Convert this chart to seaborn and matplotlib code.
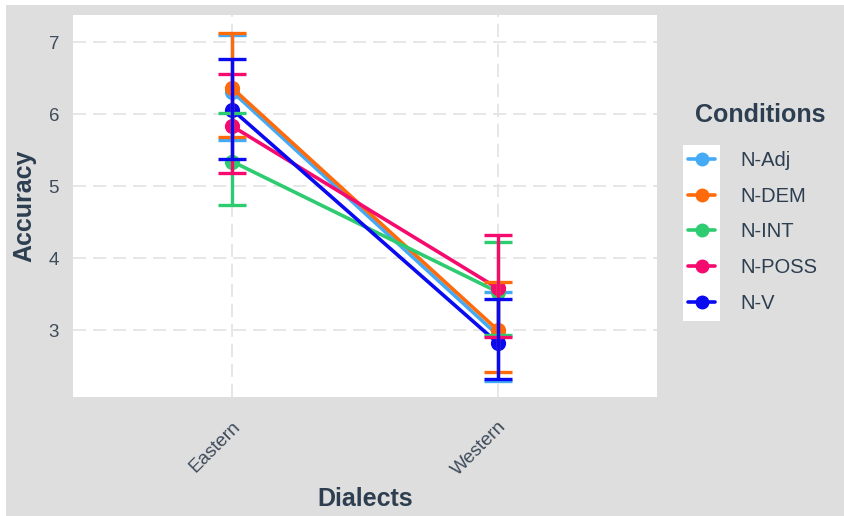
import matplotlib
matplotlib.use("Agg")
import matplotlib.pyplot as plt
import seaborn as sns
import pandas as pd
from matplotlib.patches import Rectangle
from matplotlib.lines import Line2D

dialects = ["Eastern", "Western"]
conditions = ["N-Adj", "N-DEM", "N-INT", "N-POSS", "N-V"]
colors = ["#45aaf5", "#ff6a0a", "#2ecc71", "#f50a6e", "#0a0af0"]

mean_eastern = [6.31, 6.36, 5.34, 5.83, 6.06]
mean_western = [2.93, 3.00, 3.53, 3.58, 2.82]
low_eastern = [5.64, 5.68, 4.74, 5.18, 5.37]
high_eastern = [7.10, 7.12, 6.01, 6.56, 6.76]
low_western = [2.29, 2.42, 2.93, 2.91, 2.32]
high_western = [3.53, 3.67, 4.22, 4.32, 3.43]

rows = []
for i, c in enumerate(conditions):
    rows.append(dict(Dialects="Eastern", Conditions=c, Accuracy=mean_eastern[i],
                     lo=low_eastern[i], hi=high_eastern[i]))
    rows.append(dict(Dialects="Western", Conditions=c, Accuracy=mean_western[i],
                     lo=low_western[i], hi=high_western[i]))
df = pd.DataFrame(rows)

sns.set_theme(style="white")
plt.rcParams["font.family"] = ["Liberation Sans", "DejaVu Sans"]

bg = "#dedede"
dark = "#2c3e50"
fig = plt.figure(figsize=(8.44, 5.16), dpi=100)
fig.patch.set_facecolor(bg)
# thin white strips at top and left, as in the reference crop
fig.patches.append(Rectangle((0, 1 - 5 / 516), 1, 5 / 516, transform=fig.transFigure,
                             facecolor="white", edgecolor="none", zorder=-10))
fig.patches.append(Rectangle((0, 0), 6 / 844, 1, transform=fig.transFigure,
                             facecolor="white", edgecolor="none", zorder=-10))
ax = fig.add_axes([73 / 844, 1 - 397 / 516, (657 - 73) / 844, (397 - 15) / 516])
ax.set_facecolor("white")

palette = dict(zip(conditions, colors))
for i, c in enumerate(conditions):
    sub = df[df.Conditions == c]
    xs = [dialects.index(d) for d in sub.Dialects]
    ax.errorbar(xs, sub.Accuracy,
                yerr=[sub.Accuracy - sub.lo, sub.hi - sub.Accuracy],
                fmt="none", ecolor=colors[i], elinewidth=2.4, capsize=10,
                capthick=2.4, zorder=2 + i * 0.1)

sns.pointplot(data=df, x="Dialects", y="Accuracy", hue="Conditions",
              hue_order=conditions, order=dialects, palette=palette,
              errorbar=None, dodge=False, markers="o", markersize=9,
              linewidth=2.6, ax=ax, legend=False)

ax.set_xlim(-0.6, 1.6)
ax.set_ylim(2.07, 7.375)
ax.set_yticks([3, 4, 5, 6, 7])
ax.grid(True, color="#e3e3e3", linestyle=(0, (8, 4)), linewidth=1.2)
ax.set_axisbelow(True)
for s in ax.spines.values():
    s.set_visible(False)
ax.tick_params(axis="both", length=0, labelsize=13.5, labelcolor="#3d4b5a")
ax.tick_params(axis="y", pad=10)
ax.tick_params(axis="x", pad=15)
plt.setp(ax.get_xticklabels(), rotation=45, ha="right", rotation_mode="anchor")
ax.set_xlabel("Dialects", fontsize=18, fontweight="bold", color=dark, labelpad=6)
ax.set_ylabel("Accuracy", fontsize=18, fontweight="bold", color=dark, labelpad=9)

handles = [Line2D([], [], color=colors[i], marker="o", markersize=9, linewidth=2.6)
           for i in range(len(conditions))]
fig.text(760 / 844, 1 - 115 / 516, "Conditions", ha="center", va="center",
         fontsize=18, fontweight="bold", color=dark)
leg = fig.legend(handles, conditions, loc="upper left",
                 bbox_to_anchor=(688 / 844, 1 - 151 / 516), frameon=False,
                 borderpad=0, borderaxespad=0,
                 fontsize=14.5, labelspacing=0.83,
                 handlelength=1.35, handletextpad=1.25, labelcolor="#2c3e50")
fig.patches.append(Rectangle((683 / 844, 1 - 321 / 516), 37 / 844, 176 / 516,
                             transform=fig.transFigure, facecolor="white",
                             edgecolor="none", zorder=-5))

fig.savefig("out.png", dpi=100, facecolor=fig.get_facecolor())
